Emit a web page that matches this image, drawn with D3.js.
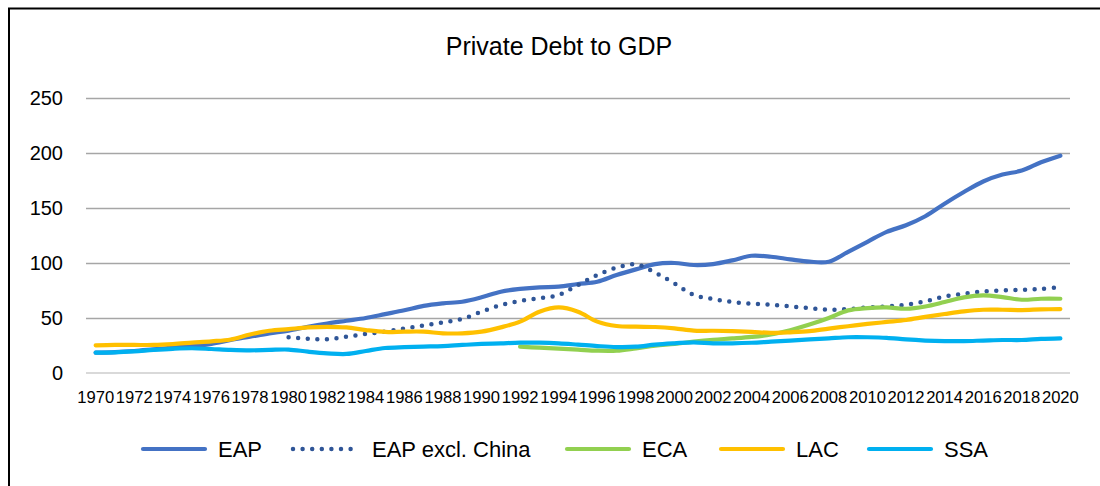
<!DOCTYPE html>
<html>
<head>
<meta charset="utf-8">
<script src="https://cdn.jsdelivr.net/npm/d3@7"></script>
<style>
  html, body { margin: 0; padding: 0; background: #fff; }
  svg { display: block; font-family: "Liberation Sans", Arial, sans-serif; }
</style>
</head>
<body>
<svg id="chart" width="1100" height="486"></svg>
<script>
const title = "Private Debt to GDP";
const years = d3.range(1970, 2021);
const yTicks = [0, 50, 100, 150, 200, 250];

const eap = [18.5, 19, 20, 21.5, 23, 24.5, 26.5, 30, 33, 36,
  38.5, 42, 45, 47.5, 50, 53.5, 57, 61, 63.3, 64.8,
  68.8, 73.9, 76.4, 77.9, 78.5, 80.9, 83, 89, 94.2, 99,
  100, 98.2, 99, 102.4, 106.6, 105.7, 103.3, 101.2, 101.2, 110.2,
  119.3, 128.3, 134.3, 142.5, 153.9, 164.5, 174.1, 180.4, 184, 191.6, 197.6];

const eapExChinaStart = 1980;
const eapExChina = [32.4, 31.2, 30.6, 33, 35.5, 37.6, 40.5, 43.3, 46, 49.1,
  55.7, 61.8, 65.5, 67.9, 70.9, 80, 89.1, 95.8, 98.8, 91.2,
  81.5, 70.9, 67.2, 64.6, 63, 62.1, 60.5, 59, 57.5, 58.1,
  59.6, 60.5, 62.1, 65.1, 69.6, 72, 74.1, 75, 75.6, 76.5, 78];

const ecaStart = 1992;
const eca = [23.9, 23, 22.1, 21.2, 20.3, 20.3, 22.4, 24.8, 26.4, 28.5,
  30.2, 31.4, 32.8, 35, 38.9, 44, 50, 56.9, 59, 59.6,
  58.4, 60.5, 64.5, 68.7, 70.5, 69, 66.6, 67.5, 67.5];

const lac = [25.2, 25.5, 25.5, 25.5, 26.3, 27.6, 28.8, 30.5, 35, 38.4,
  39.9, 41.4, 42, 41.4, 39, 37.3, 37.6, 37.6, 36.1, 36.1,
  37.6, 41.5, 46.7, 55.7, 59.6, 55.7, 46.7, 42.7, 42.1, 41.8,
  40.6, 38.5, 38.4, 38, 37.4, 36.5, 37, 38, 40.4, 42.5,
  44.6, 46.4, 48.2, 51, 53.6, 56, 57.5, 57.5, 57.2, 57.8, 58.1];

const ssa = [18.5, 18.8, 19.7, 21, 22, 22.5, 21.8, 21, 20.6, 21,
  21.3, 19.4, 17.9, 17.3, 20, 22.7, 23.5, 24, 24.5, 25.5,
  26.4, 27, 27.6, 27.6, 27, 25.8, 24.5, 23.6, 23.9, 25.8,
  27, 27.9, 27, 27, 27.5, 28.5, 29.5, 30.5, 31.5, 32.5,
  32.5, 32, 30.5, 29.5, 29, 29, 29.5, 30, 30, 31, 31.5];

const seriesNames = ["EAP", "EAP excl. China", "ECA", "LAC", "SSA"];
const seriesColors = ["#4472C4", "#2F5597", "#92D050", "#FFC000", "#00B0F0"];

function toPoints(vals, start) {
  return vals.map((v, i) => ({ year: start + i, value: v }));
}
const series = [
  { name: seriesNames[0], color: seriesColors[0], dotted: false, pts: toPoints(eap, 1970) },
  { name: seriesNames[1], color: seriesColors[1], dotted: true,  pts: toPoints(eapExChina, eapExChinaStart) },
  { name: seriesNames[2], color: seriesColors[2], dotted: false, pts: toPoints(eca, ecaStart) },
  { name: seriesNames[3], color: seriesColors[3], dotted: false, pts: toPoints(lac, 1970) },
  { name: seriesNames[4], color: seriesColors[4], dotted: false, pts: toPoints(ssa, 1970) }
];

const svg = d3.select("#chart");
svg.append("rect").attr("width", 1100).attr("height", 486).attr("fill", "#fff");
// outer frame
svg.append("rect").attr("x", 9).attr("y", 8.5).attr("width", 1110).attr("height", 500)
  .attr("fill", "none").attr("stroke", "#000").attr("stroke-width", 2);

const plot = { left: 86, right: 1070, top: 98, bottom: 373 };

const x = d3.scaleBand().domain(years).range([plot.left, plot.right]);
const y = d3.scaleLinear().domain([0, 250]).range([plot.bottom, plot.top]);
const cx = yr => x(yr) + x.bandwidth() / 2;

// title
svg.append("text").attr("x", 559).attr("y", 55).attr("text-anchor", "middle")
  .attr("font-size", 25).attr("fill", "#000").text(title);

// gridlines
svg.append("g").selectAll("line").data(yTicks.filter(d => d > 0)).join("line")
  .attr("x1", plot.left).attr("x2", plot.right)
  .attr("y1", d => Math.round(y(d)) + 0.5).attr("y2", d => Math.round(y(d)) + 0.5)
  .attr("stroke", "#a6a6a6").attr("stroke-width", 1.5);

// zero axis line
svg.append("line").attr("x1", plot.left).attr("x2", plot.right)
  .attr("y1", y(0)).attr("y2", y(0)).attr("stroke", "#d9d9d9").attr("stroke-width", 2);

// y axis labels
const yAxis = d3.axisLeft(y).tickValues(yTicks).tickSize(0).tickPadding(0);
const gy = svg.append("g").attr("transform", "translate(63,0)").call(yAxis);
gy.select(".domain").remove();
gy.selectAll("text").attr("font-size", 20).attr("fill", "#000")
  .attr("font-family", "Liberation Sans, Arial, sans-serif");

// x axis labels
const xAxis = d3.axisBottom(x).tickValues(years.filter(d => (d - 1970) % 2 === 0)).tickSize(0).tickPadding(0);
const gx = svg.append("g").attr("transform", `translate(0,${plot.bottom})`).call(xAxis);
gx.select(".domain").remove();
gx.selectAll("text").attr("font-size", 16.6).attr("fill", "#000").attr("dy", null).attr("y", 30)
  .attr("font-family", "Liberation Sans, Arial, sans-serif");

// lines
const line = d3.line().x(d => cx(d.year)).y(d => y(d.value)).curve(d3.curveCatmullRom.alpha(0.5));
series.forEach(s => {
  const p = svg.append("path").datum(s.pts).attr("d", line)
    .attr("fill", "none").attr("stroke", s.color)
    .attr("stroke-linejoin", "round");
  if (s.dotted) {
    p.attr("stroke-width", 4.5).attr("stroke-linecap", "round").attr("stroke-dasharray", "0 9.6");
  } else {
    p.attr("stroke-width", 4.2).attr("stroke-linecap", "round");
  }
});

// legend
const legendX = [143, 293, 567, 721, 869];
const legendTextOffset = [75, 79, 75, 75, 75];
const ly = 449;
const lg = svg.append("g");
series.forEach((s, i) => {
  const l = lg.append("line").attr("x1", legendX[i]).attr("x2", legendX[i] + 62)
    .attr("y1", ly).attr("y2", ly).attr("stroke", s.color).attr("stroke-linecap", "round");
  if (s.dotted) l.attr("stroke-width", 4.5).attr("stroke-dasharray", "0 9.6");
  else l.attr("stroke-width", 4.2);
  lg.append("text").attr("x", legendX[i] + legendTextOffset[i]).attr("y", ly + 8)
    .attr("font-size", 22).attr("fill", "#000").text(s.name);
});
</script>
</body>
</html>
